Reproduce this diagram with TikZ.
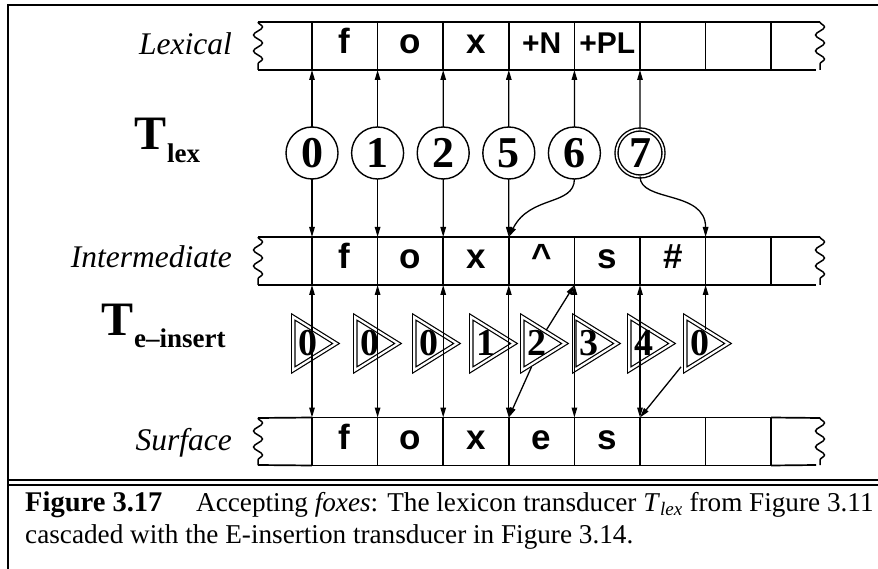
\documentclass[tikz,border=0pt]{standalone}
\usepackage{fontspec}
\setmainfont{Liberation Serif}
\setsansfont{Liberation Sans}
\usetikzlibrary{arrows.meta,decorations.pathmorphing}

\tikzset{
  cell/.style={draw, line width=1.7pt, minimum width=65.6pt, minimum height=48pt,
    inner sep=0pt, outer sep=0pt, text height=16pt, text depth=0pt,
    font=\sffamily\bfseries\fontsize{35}{35}\selectfont},
  tapeline/.style={line width=1.7pt},
  wave/.style={line width=1.5pt, decorate,
    decoration={snake, amplitude=4.5pt, segment length=16pt}},
  state/.style={draw, circle, line width=1.4pt, minimum size=52pt, inner sep=0pt,
    outer sep=0pt, font=\bfseries\fontsize{44}{44}\selectfont},
  tri/.style={draw, double, line width=1.2pt, double distance=2.2pt},
  tdigit/.style={inner sep=0pt, font=\bfseries\fontsize{38}{38}\selectfont},
  tapename/.style={anchor=base east, inner sep=0pt,
    font=\itshape\fontsize{31.5}{31.5}\selectfont},
  capt/.style={anchor=base west, inner sep=0pt, font=\fontsize{27.2}{31}\selectfont},
}
\newcommand\tagsym[1]{{\fontsize{30}{30}\selectfont #1}}

\begin{document}
\begin{tikzpicture}[x=1pt, y=-1pt, line join=miter,
  >={Triangle[length=10pt,width=5.5pt]}, arr/.style={line width=1.3pt}]
\useasboundingbox (0,0) rectangle (878,569);

% frame round the figure and rule over the caption
\draw[line width=2.5pt] (8,569) -- (8,5) -- (878,5);
\draw[line width=1.8pt] (8,480) -- (878,480);
\draw[line width=1.8pt] (8,485) -- (878,485);

% lexical tape
\node[tapename] (lexname) at (232,55) {Lexical};
\foreach \t [count=\i] in {f,o,x,\tagsym{+N},\tagsym{+PL},{},{}}
  \node[cell] (L\i) at ({312+65.6*(\i-0.5)},46) {\t};
\draw[tapeline] (L1.north west) -- (258,22);
\draw[tapeline] (L1.south west) -- (258,70);
\draw[wave] (258,22) -- (258,70);
\draw[tapeline] (L7.north east) -- (820,22);
\draw[tapeline] (L7.south east) -- (816,70);
\draw[wave] (820,22) -- (820,70);

% intermediate tape
\node[tapename] (intname) at (232,268) {Intermediate};
\foreach \t [count=\i] in {f,o,x,\textasciicircum,s,\#,{}}
  \node[cell] (I\i) at ({312+65.6*(\i-0.5)},261) {\t};
\draw[tapeline] (I1.north west) -- (258,237);
\draw[tapeline] (I1.south west) -- (258,285);
\draw[wave] (258,237) -- (258,285);
\draw[tapeline] (I7.north east) -- (820,237);
\draw[tapeline] (I7.south east) -- (816,285);
\draw[wave] (820,237) -- (820,285);

% surface tape
\node[tapename] (surfname) at (232,450) {Surface};
\foreach \t [count=\i] in {f,o,x,e,s,{},{}}
  \node[cell] (S\i) at ({312+65.6*(\i-0.5)},441.5) {\t};
\draw[tapeline] (S1.north west) -- (258,418);
\draw[tapeline] (S1.south west) -- (258,465);
\draw[wave] (258,418) -- (258,465);
\draw[tapeline] (S7.north east) -- (820,418);
\draw[tapeline] (S7.south east) -- (816,465);
\draw[wave] (820,418) -- (820,465);

% T_lex
\node[anchor=base west, inner sep=0pt, font=\bfseries\fontsize{48}{48}\selectfont]
  (tlex) at (134,150) {T\kern1pt\raisebox{-13pt}{\fontsize{27}{27}\selectfont lex}};
\node[state] (s0) at (312,153) {0};
\node[state] (s1) at (377.6,153) {1};
\node[state] (s2) at (443.2,153) {2};
\node[state] (s5) at (508.8,153) {5};
\node[state] (s6) at (574.4,153) {6};
\node[state, double, double distance=1.6pt, minimum size=47pt] (s7) at (640,153) {7};

\draw[->, arr] (s0.north) -- (L1.south west);
\draw[->, arr] (s1.north) -- (L2.south west);
\draw[->, arr] (s2.north) -- (L3.south west);
\draw[->, arr] (s5.north) -- (L4.south west);
\draw[->, arr] (s6.north) -- (L5.south west);
\draw[->, arr] (s7.north) -- (L6.south west);
\draw[->, arr] (s0.south) -- (I1.north west);
\draw[->, arr] (s1.south) -- (I2.north west);
\draw[->, arr] (s2.south) -- (I3.north west);
\draw[->, arr] (s5.south) -- (I4.north west);
\draw[->, arr] (s6.south) .. controls +(0,27) and +(21,-42) .. (I4.north west);
\draw[->, arr] (s7.south) .. controls +(0,26) and +(0,-47) .. (I7.north west);

% T_e-insert
\node[anchor=base west, inner sep=0pt, font=\bfseries\fontsize{48}{48}\selectfont]
  (tins) at (101,335) {T\kern1pt\raisebox{-12pt}{\fontsize{27}{27}\selectfont e--insert}};
\foreach \x/\d/\n in {291/0/1, 353/0/2, 412/0/3, 469/1/4, 520/2/5, 572/3/6, 627/4/7, 683/0/8} {
  \draw[tri] (\x+2.3,317) -- (\x+45,343.5) -- (\x+2.3,370) -- cycle;
  \node[tdigit] (q\n) at (\x+16.5,343) {\d};
}

\foreach \i in {1,...,6}
  \draw[<->, arr] (I\i.south west) -- (S\i.north west);
\draw[->, arr] (I7.south west |- q8.north) -- (I7.south west);
\draw[->, arr] (q5.north east) -- (I5.south west);
\draw[->, arr, shorten <=12pt] (q5.south) -- (S4.north west);
\draw[->, arr, shorten <=14pt] (q8.south west) -- (S6.north west);

% caption
\node[capt, font=\bfseries\fontsize{28.5}{31}\selectfont] (capfig) at (25,511) {Figure 3.17};
\node[capt] (capline1) at (196,511)
  {Accepting \textit{foxes}: The lexicon transducer \textit{T}\textsubscript{\textit{lex}} from Figure 3.11};
\node[capt] (capline2) at (25,543) {cascaded with the E-insertion transducer in Figure 3.14.};
\end{tikzpicture}
\end{document}
